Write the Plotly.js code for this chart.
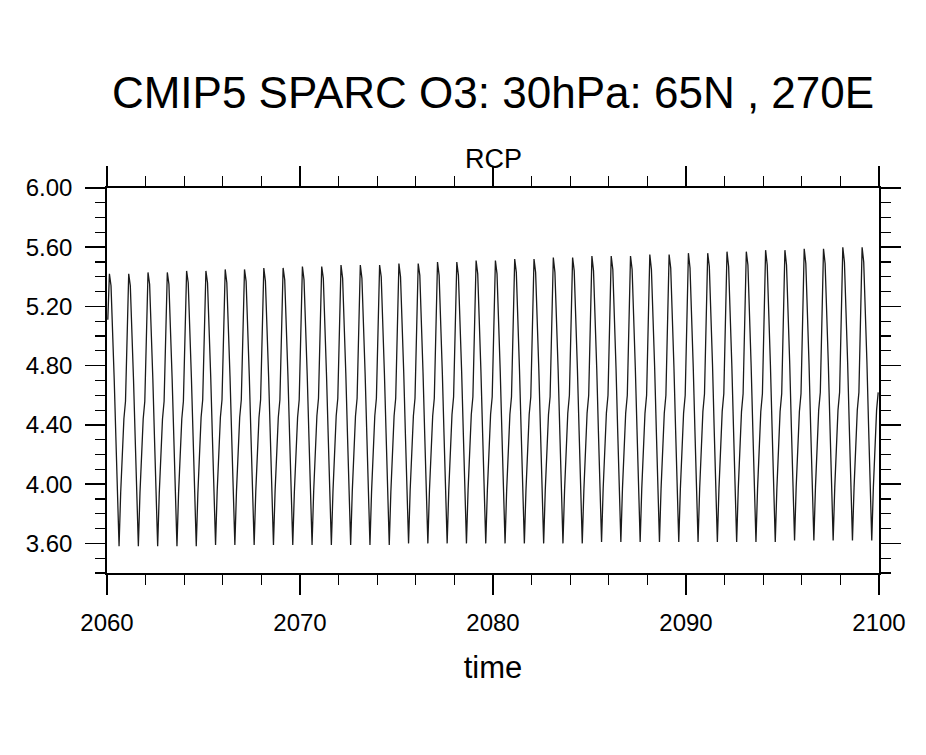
<!DOCTYPE html>
<html>
<head>
<meta charset="utf-8">
<script src="https://cdn.plot.ly/plotly-3.0.1.min.js"></script>
<style>
  html, body { margin: 0; padding: 0; background: #ffffff; }
  #chart { width: 926px; height: 755px; }
</style>
</head>
<body>
<div id="chart"></div>
<script>
// Years covered by the monthly series (Jan 2060 .. Dec 2099)
const years = [2060,2061,2062,2063,2064,2065,2066,2067,2068,2069,
               2070,2071,2072,2073,2074,2075,2076,2077,2078,2079,
               2080,2081,2082,2083,2084,2085,2086,2087,2088,2089,
               2090,2091,2092,2093,2094,2095,2096,2097,2098,2099];

// Ozone (ppmv) at 30 hPa, 65N 270E, read per calendar month for each year above
const jan = [5.11,5.11,5.12,5.12,5.12,5.12,5.13,5.13,5.13,5.14,5.14,5.14,5.14,5.15,5.15,5.15,5.16,5.16,5.16,5.16,
             5.17,5.17,5.17,5.17,5.18,5.18,5.18,5.19,5.19,5.19,5.19,5.20,5.20,5.20,5.21,5.21,5.21,5.21,5.22,5.22];
const feb = [5.42,5.42,5.43,5.43,5.44,5.44,5.45,5.45,5.46,5.46,5.47,5.47,5.48,5.48,5.48,5.49,5.49,5.50,5.50,5.51,
             5.51,5.52,5.52,5.53,5.53,5.54,5.54,5.54,5.55,5.55,5.56,5.56,5.57,5.57,5.58,5.58,5.59,5.59,5.60,5.60];
const mar = [5.34,5.34,5.35,5.35,5.36,5.36,5.36,5.37,5.37,5.38,5.38,5.39,5.39,5.39,5.40,5.40,5.41,5.41,5.41,5.42,
             5.42,5.43,5.43,5.43,5.44,5.44,5.45,5.45,5.45,5.46,5.46,5.47,5.47,5.48,5.48,5.48,5.49,5.49,5.50,5.50];
const apr = [5.06,5.06,5.07,5.07,5.07,5.08,5.08,5.09,5.09,5.09,5.10,5.10,5.10,5.11,5.11,5.11,5.12,5.12,5.12,5.13,
             5.13,5.14,5.14,5.14,5.15,5.15,5.15,5.16,5.16,5.16,5.17,5.17,5.17,5.18,5.18,5.19,5.19,5.19,5.20,5.20];
const may = [4.70,4.70,4.71,4.71,4.71,4.72,4.72,4.72,4.72,4.73,4.73,4.73,4.74,4.74,4.74,4.75,4.75,4.75,4.76,4.76,
             4.76,4.76,4.77,4.77,4.77,4.78,4.78,4.78,4.79,4.79,4.79,4.80,4.80,4.80,4.80,4.81,4.81,4.81,4.82,4.82];
const jun = [4.32,4.32,4.32,4.33,4.33,4.33,4.33,4.33,4.34,4.34,4.34,4.34,4.34,4.35,4.35,4.35,4.35,4.35,4.36,4.36,
             4.36,4.36,4.37,4.37,4.37,4.37,4.37,4.38,4.38,4.38,4.38,4.38,4.39,4.39,4.39,4.39,4.39,4.40,4.40,4.40];
const jul = [3.94,3.94,3.94,3.94,3.95,3.95,3.95,3.95,3.95,3.95,3.96,3.96,3.96,3.96,3.96,3.96,3.96,3.97,3.97,3.97,
             3.97,3.97,3.97,3.98,3.98,3.98,3.98,3.98,3.98,3.98,3.99,3.99,3.99,3.99,3.99,3.99,4.00,4.00,4.00,4.00];
const aug = [3.58,3.58,3.58,3.58,3.58,3.59,3.59,3.59,3.59,3.59,3.59,3.59,3.59,3.59,3.59,3.60,3.60,3.60,3.60,3.60,
             3.60,3.60,3.60,3.60,3.60,3.61,3.61,3.61,3.61,3.61,3.61,3.61,3.61,3.61,3.61,3.62,3.62,3.62,3.62,3.62];
const sep = [3.94,3.94,3.94,3.94,3.94,3.95,3.95,3.95,3.95,3.95,3.95,3.95,3.95,3.95,3.95,3.96,3.96,3.96,3.96,3.96,
             3.96,3.96,3.96,3.96,3.96,3.97,3.97,3.97,3.97,3.97,3.97,3.97,3.97,3.97,3.97,3.98,3.98,3.98,3.98,3.98];
const oct = [4.26,4.26,4.26,4.26,4.26,4.27,4.27,4.27,4.27,4.27,4.27,4.27,4.27,4.27,4.27,4.28,4.28,4.28,4.28,4.28,
             4.28,4.28,4.28,4.28,4.28,4.29,4.29,4.29,4.29,4.29,4.29,4.29,4.29,4.29,4.29,4.30,4.30,4.30,4.30,4.30];
const nov = [4.44,4.44,4.44,4.44,4.45,4.45,4.45,4.45,4.45,4.45,4.46,4.46,4.46,4.46,4.46,4.46,4.46,4.47,4.47,4.47,
             4.47,4.47,4.47,4.48,4.48,4.48,4.48,4.48,4.48,4.48,4.49,4.49,4.49,4.49,4.49,4.49,4.50,4.50,4.50,4.50];
const dec = [4.56,4.56,4.56,4.56,4.57,4.57,4.57,4.57,4.57,4.57,4.58,4.58,4.58,4.58,4.58,4.58,4.58,4.59,4.59,4.59,
             4.59,4.59,4.59,4.60,4.60,4.60,4.60,4.60,4.60,4.60,4.61,4.61,4.61,4.61,4.61,4.61,4.62,4.62,4.62,4.62];

// Axis tick labels
const xTickVals = [2060, 2070, 2080, 2090, 2100];
const xTickText = ["2060", "2070", "2080", "2090", "2100"];
const yTickVals = [3.6, 4.0, 4.4, 4.8, 5.2, 5.6, 6.0];
const yTickText = ["3.60", "4.00", "4.40", "4.80", "5.20", "5.60", "6.00"];

const mainTitle = "CMIP5 SPARC O3: 30hPa: 65N , 270E";
const subTitle = "RCP";
const xTitle = "time";

// Build the monthly time series (time = year + (month - 0.5)/12)
const months = [jan, feb, mar, apr, may, jun, jul, aug, sep, oct, nov, dec];
const tx = [], ty = [];
years.forEach((yr, i) => {
  months.forEach((arr, m) => {
    tx.push(yr + (m + 0.5) / 12);
    ty.push(arr[i]);
  });
});

const FONT = "Liberation Sans, Arial, Helvetica, sans-serif";

const trace = {
  x: tx, y: ty, type: "scatter", mode: "lines",
  line: { color: "#1a1a1a", width: 1.3 },
  hoverinfo: "skip", showlegend: false
};

const axisCommon = {
  showline: true, linecolor: "#000000", linewidth: 1.8,
  mirror: "ticks", ticks: "outside", ticklen: 20, tickwidth: 1.6, tickcolor: "#000000",
  showgrid: false, zeroline: false,
  tickfont: { family: FONT, size: 24, color: "#000000" }
};

const layout = {
  width: 926, height: 755,
  margin: { l: 107, r: 47, t: 188, b: 182 },
  paper_bgcolor: "#ffffff", plot_bgcolor: "#ffffff",
  title: {
    text: mainTitle,
    font: { family: FONT, size: 44, color: "#000000" },
    xref: "paper", x: 0.5, xanchor: "center",
    yref: "container", y: 0.898, yanchor: "top"
  },
  xaxis: Object.assign({}, axisCommon, {
    range: [2060, 2100],
    tickmode: "array", tickvals: xTickVals, ticktext: xTickText,
    ticklabelstandoff: 7,
    minor: { dtick: 2, tick0: 2060, ticks: "outside", ticklen: 10, tickwidth: 1.2, tickcolor: "#000000", showgrid: false },
    title: { text: xTitle, font: { family: FONT, size: 31, color: "#000000" }, standoff: 22 }
  }),
  yaxis: Object.assign({}, axisCommon, {
    range: [3.4, 6.0],
    tickmode: "array", tickvals: yTickVals, ticktext: yTickText,
    ticklabelstandoff: 8,
    minor: { dtick: 0.1, tick0: 3.4, ticks: "outside", ticklen: 10, tickwidth: 1.2, tickcolor: "#000000", showgrid: false }
  }),
  annotations: [{
    text: subTitle, xref: "paper", yref: "paper", x: 0.5, y: 1,
    xanchor: "center", yanchor: "bottom", yshift: 12, showarrow: false,
    font: { family: FONT, size: 27, color: "#000000" }
  }]
};

Plotly.newPlot("chart", [trace], layout, { staticPlot: true, displayModeBar: false });
</script>
</body>
</html>
